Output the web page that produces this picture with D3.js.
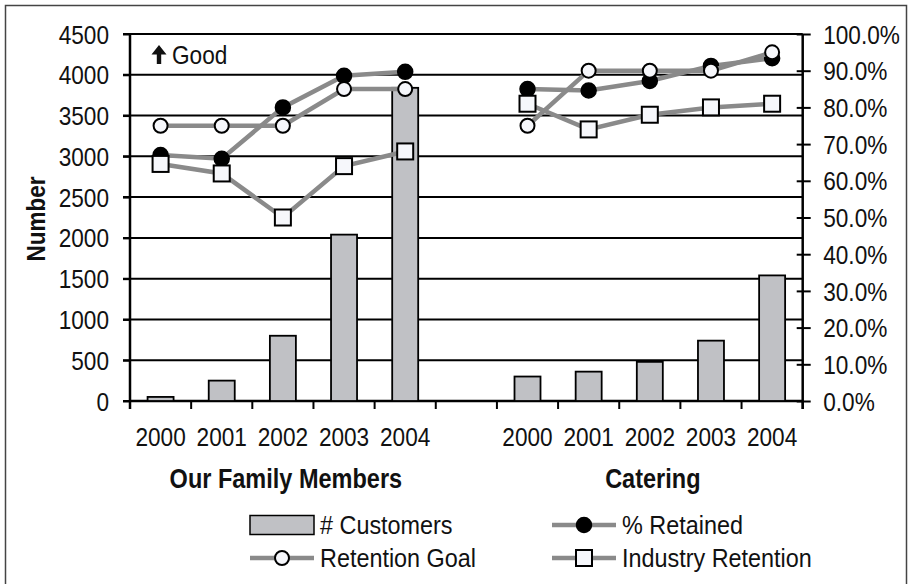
<!DOCTYPE html>
<html>
<head>
<meta charset="utf-8">
<script src="https://cdn.jsdelivr.net/npm/d3@7"></script>
<style>
  body { margin: 0; background: #fff; }
  svg { display: block; font-family: "Liberation Sans", Arial, sans-serif; }
</style>
</head>
<body>
<svg id="chart" width="909" height="584"></svg>
<script>
// chart values
const years = ['2000', '2001', '2002', '2003', '2004'];
const groups = ['Our Family Members', 'Catering'];
const customers = [[50, 250, 800, 2040, 3840], [300, 360, 480, 740, 1540]];
const retained = [[67, 66, 80, 88.6, 89.7], [85, 84.6, 87.2, 91.3, 93.4]];
const retentionGoal = [[75, 75, 75, 85, 85], [75, 90, 90, 90, 95]];
const industryRetention = [[64.6, 62, 50, 64, 68], [81, 74, 78, 80, 81]];
const leftTicks = [0, 500, 1000, 1500, 2000, 2500, 3000, 3500, 4000, 4500];
const rightTicks = [0, 10, 20, 30, 40, 50, 60, 70, 80, 90, 100];

const svg = d3.select('#chart');
const sx = 0.87; // squeeze for the narrow font look

const plot = { left: 130, right: 802.7, top: 34, bottom: 401 };

// slots: 5 years, an empty gap, 5 years
const slots = [];
groups.forEach((g, gi) => {
  years.forEach(y => slots.push(gi + '-' + y));
  if (gi < groups.length - 1) slots.push('gap');
});

const x = d3.scaleBand().domain(slots).range([plot.left, plot.right]).padding(0);
const yL = d3.scaleLinear().domain([0, 4500]).range([plot.bottom, plot.top]);
const yR = d3.scaleLinear().domain([0, 100]).range([plot.bottom, plot.top]);
const cx = (gi, yi) => x(gi + '-' + years[yi]) + x.bandwidth() / 2;

// frame
svg.append('path')
  .attr('d', 'M5.5,600V5.5H906.5V600')
  .attr('fill', 'none').attr('stroke', '#444').attr('stroke-width', 1.5);

// gridlines
svg.append('g').selectAll('line').data(leftTicks).join('line')
  .attr('x1', plot.left - 7).attr('x2', plot.right)
  .attr('y1', d => yL(d)).attr('y2', d => yL(d))
  .attr('stroke', '#000').attr('stroke-width', 2);

// left axis
const axL = svg.append('g').attr('transform', `translate(${plot.left},0)`)
  .call(d3.axisLeft(yL).tickValues(leftTicks).tickSize(7).tickSizeOuter(0)
    .tickFormat(d3.format('d')));
axL.select('.domain').attr('stroke-width', 2.5).attr('d', `M0,${plot.top}V${plot.bottom + 8}`);
axL.selectAll('line').attr('stroke-width', 2);
axL.selectAll('text')
  .attr('font-size', 26).attr('fill', '#111')
  .attr('x', -21 / sx).attr('dy', '0.35em')
  .attr('transform', `scale(${sx},1)`);

// right axis
const axR = svg.append('g').attr('transform', `translate(${plot.right},0)`)
  .call(d3.axisRight(yR).tickValues(rightTicks).tickSize(8).tickSizeOuter(0)
    .tickFormat(d => d.toFixed(1) + '%'));
axR.select('.domain').attr('stroke-width', 2.5).attr('d', `M0,${plot.top}V${plot.bottom + 8}`);
axR.selectAll('.tick line').attr('x1', -6).attr('stroke-width', 2);
axR.selectAll('text')
  .attr('font-size', 26).attr('fill', '#111')
  .attr('x', 20.5 / sx).attr('dy', '0.35em')
  .attr('transform', `scale(${sx},1)`);

// bottom axis
svg.append('line')
  .attr('x1', plot.left).attr('x2', plot.right)
  .attr('y1', plot.bottom).attr('y2', plot.bottom)
  .attr('stroke', '#000').attr('stroke-width', 2.5);
const bounds = slots.map(s => x(s)).concat([x.range()[1]]);
svg.append('g').selectAll('line').data(bounds).join('line')
  .attr('x1', d => d).attr('x2', d => d)
  .attr('y1', plot.bottom).attr('y2', plot.bottom + 8)
  .attr('stroke', '#000').attr('stroke-width', 2);

groups.forEach((g, gi) => {
  years.forEach((yr, yi) => {
    svg.append('text')
      .attr('transform', `translate(${cx(gi, yi)},446) scale(${sx},1)`)
      .attr('text-anchor', 'middle').attr('font-size', 26).attr('fill', '#111')
      .text(yr);
  });
  const mid = (x(gi + '-' + years[0]) + x(gi + '-' + years[4]) + x.bandwidth()) / 2;
  svg.append('text')
    .attr('transform', `translate(${mid + 3},488) scale(0.84,1)`)
    .attr('text-anchor', 'middle').attr('font-size', 28).attr('font-weight', 'bold')
    .attr('fill', '#111')
    .text(g);
});

// y title
svg.append('text')
  .attr('transform', 'translate(45,219) rotate(-90) scale(0.9,1)')
  .attr('text-anchor', 'middle').attr('font-size', 25).attr('font-weight', 'bold')
  .attr('fill', '#111')
  .text('Number');

// annotation: bold up arrow + "Good"
svg.append('path')
  .attr('d', 'M159,45L166.5,54.5H161.2V64H156.8V54.5H151.5Z')
  .attr('fill', '#111');
svg.append('text')
  .attr('transform', `translate(172,64) scale(${sx},1)`)
  .attr('font-size', 26).attr('fill', '#111')
  .text('Good');

// bars
const barW = 26;
const barFill = '#c0c1c5';
groups.forEach((g, gi) => {
  svg.append('g').selectAll('rect').data(customers[gi]).join('rect')
    .attr('x', (d, i) => cx(gi, i) - barW / 2)
    .attr('width', barW)
    .attr('y', d => yL(d))
    .attr('height', d => yL(0) - yL(d))
    .attr('fill', barFill).attr('stroke', '#000').attr('stroke-width', 1.8);
});

// lines
const lineColor = '#8a8a8a';
const markFill = '#f6f7fb';
const line = d3.line().x(d => d[0]).y(d => yR(d[1]));

function drawSeries(values, marker) {
  groups.forEach((g, gi) => {
    const pts = values[gi].map((v, i) => [cx(gi, i), v]);
    svg.append('path').datum(pts)
      .attr('d', line).attr('fill', 'none')
      .attr('stroke', lineColor).attr('stroke-width', 4.5);
    const m = svg.append('g');
    pts.forEach(p => marker(m, p[0], yR(p[1])));
  });
}

const blackDot = (g, px, py) => g.append('circle').attr('cx', px).attr('cy', py).attr('r', 7.5)
  .attr('fill', '#000').attr('stroke', '#000').attr('stroke-width', 1.5);
const whiteDot = (g, px, py) => g.append('circle').attr('cx', px).attr('cy', py).attr('r', 7)
  .attr('fill', markFill).attr('stroke', '#000').attr('stroke-width', 2);
const square = (g, px, py) => g.append('rect').attr('x', px - 8).attr('y', py - 8)
  .attr('width', 16).attr('height', 16)
  .attr('fill', markFill).attr('stroke', '#000').attr('stroke-width', 2);

drawSeries(retained, blackDot);
drawSeries(retentionGoal, whiteDot);
drawSeries(industryRetention, square);

// legend
const legend = [
  { label: '# Customers', kind: 'bar', lx: 250, ly: 525 },
  { label: '% Retained', kind: 'black', lx: 552, ly: 525 },
  { label: 'Retention Goal', kind: 'white', lx: 250, ly: 558 },
  { label: 'Industry Retention', kind: 'square', lx: 552, ly: 558 }
];
const lg = svg.append('g');
legend.forEach(d => {
  if (d.kind === 'bar') {
    lg.append('rect').attr('x', d.lx).attr('y', d.ly - 9.5).attr('width', 64).attr('height', 19)
      .attr('fill', barFill).attr('stroke', '#000').attr('stroke-width', 1.5);
  } else {
    lg.append('line').attr('x1', d.lx).attr('x2', d.lx + 64).attr('y1', d.ly).attr('y2', d.ly)
      .attr('stroke', lineColor).attr('stroke-width', 4.5);
    const mx = d.lx + 32;
    if (d.kind === 'black') blackDot(lg, mx, d.ly);
    else if (d.kind === 'white') whiteDot(lg, mx, d.ly);
    else square(lg, mx, d.ly);
  }
  lg.append('text')
    .attr('transform', `translate(${d.lx + 70},${d.ly + 9}) scale(0.9,1)`)
    .attr('font-size', 26).attr('fill', '#111')
    .text(d.label);
});
</script>
</body>
</html>
